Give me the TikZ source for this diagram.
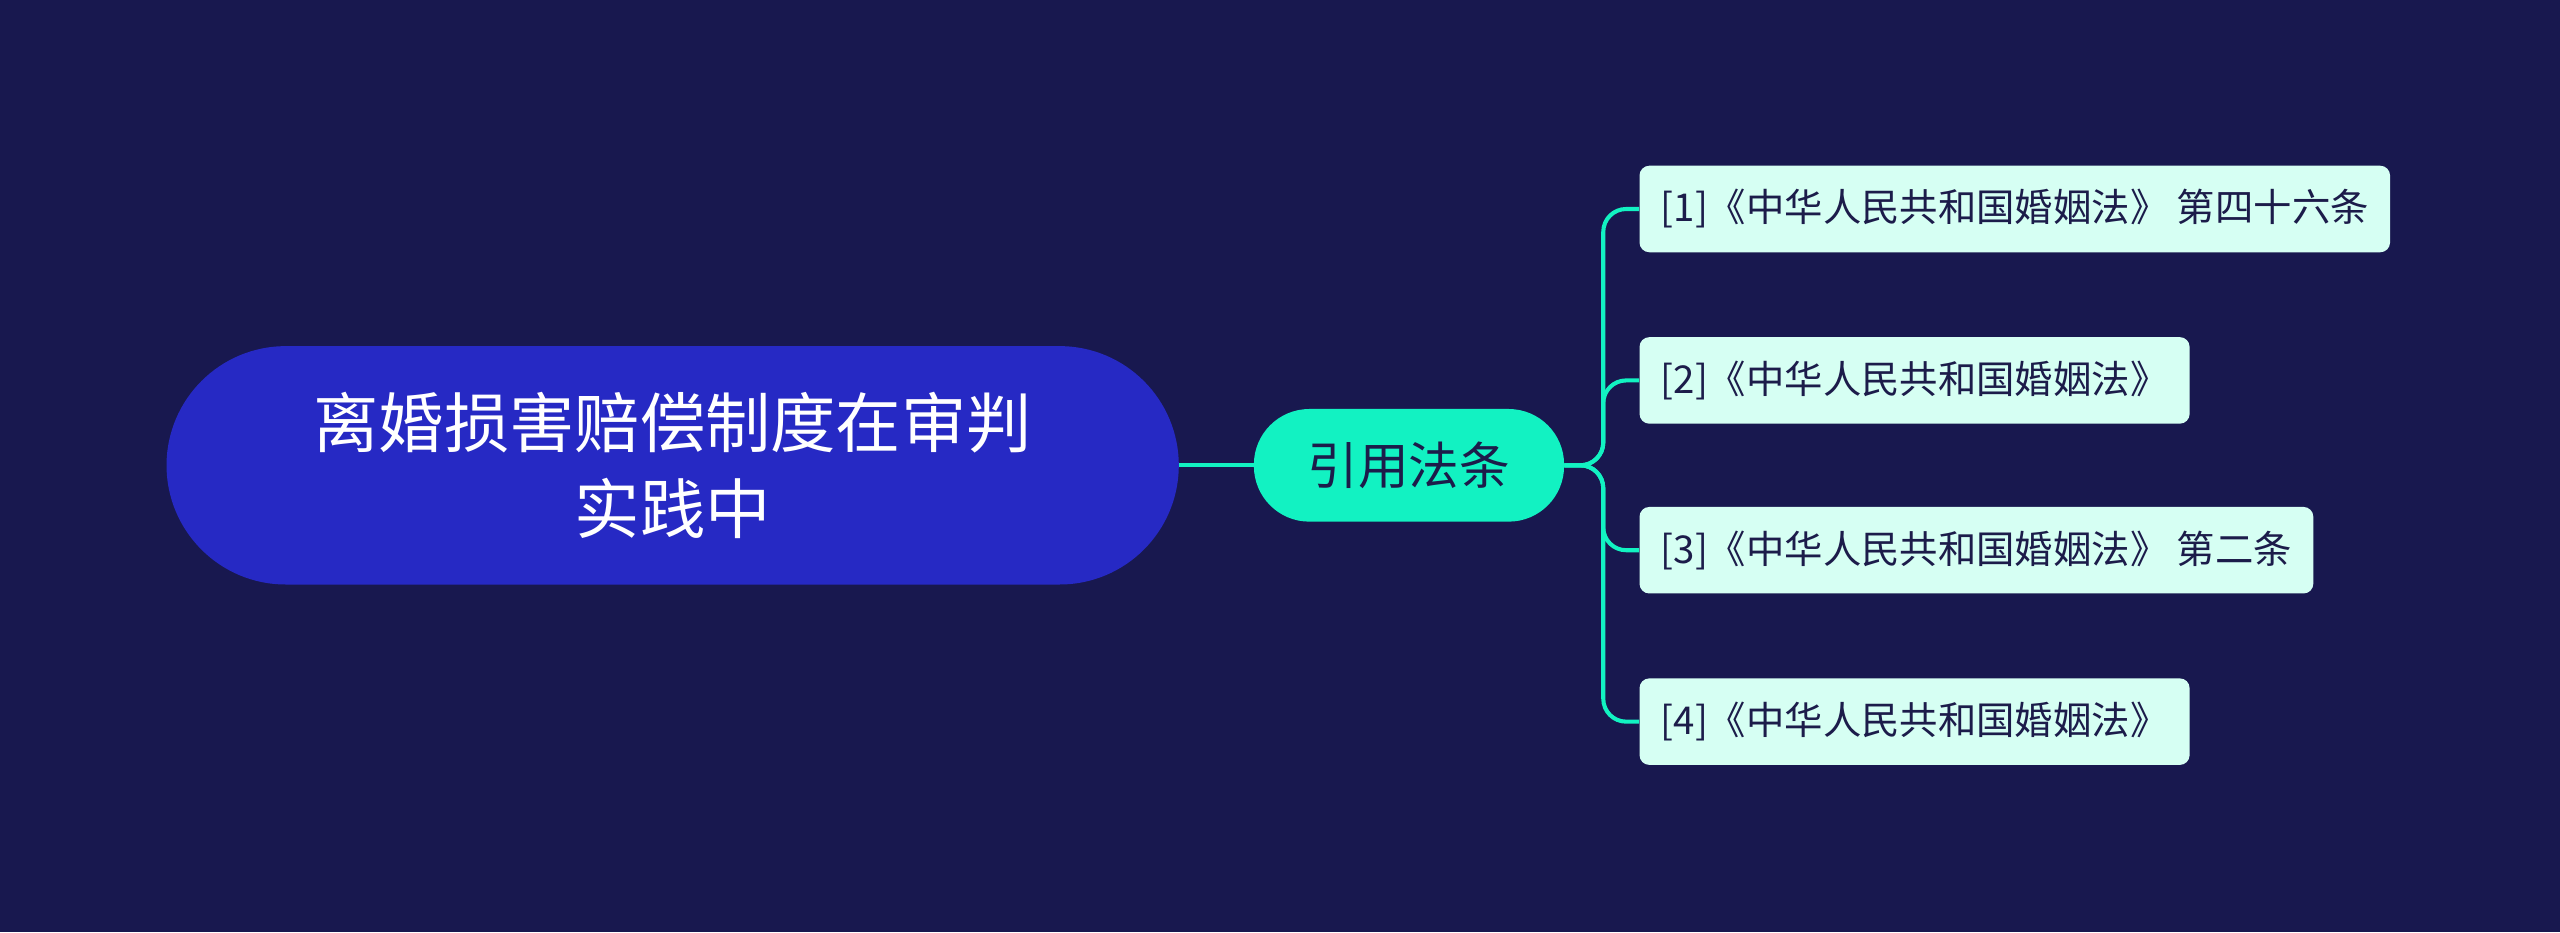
\documentclass[tikz,border=0pt]{standalone}
\usepackage{fontspec}
\newfontfamily\cjk{Noto Sans CJK SC}
\definecolor{bg}{HTML}{18184F}
\definecolor{rootc}{HTML}{2629C4}
\definecolor{midc}{HTML}{12F2C2}
\definecolor{leafc}{HTML}{D6FFF3}
\definecolor{txt}{HTML}{1C1C4A}
\tikzset{leaf/.style={fill=leafc,rounded corners=6pt,anchor=west,minimum height=53pt,inner xsep=13pt,font=\cjk\fontsize{23.5}{27}\selectfont,text=txt},
link/.style={draw=midc,line width=2.5pt,rounded corners=14pt}}
\begin{document}
\begin{tikzpicture}[x=1pt,y=-1pt]
\fill[bg] (0,0) rectangle (1568,571);
\useasboundingbox (0,0) rectangle (1568,571);
\node[fill=rootc,rounded corners=73pt,minimum width=620pt,minimum height=146pt,text=white,align=center,font=\cjk\fontsize{40}{53}\selectfont] (root) at (412,285) {离婚损害赔偿制度在审判\\实践中};
\node[fill=midc,rounded corners=34pt,minimum width=190pt,minimum height=69pt,text=txt,font=\cjk\fontsize{31}{35}\selectfont] (mid) at (863,285) {引用法条};
\node[leaf] (l1) at (1004,128) {[1]《中华人民共和国婚姻法》 第四十六条};
\node[leaf] (l2) at (1004,233) {[2]《中华人民共和国婚姻法》};
\node[leaf] (l3) at (1004,337) {[3]《中华人民共和国婚姻法》 第二条};
\node[leaf] (l4) at (1004,442) {[4]《中华人民共和国婚姻法》};
\draw[link] (root.east) -- (mid.west);
\coordinate (j) at (982,285);
\foreach \l in {l1,l2,l3,l4} \draw[link] (mid.east) -- (j) |- (\l.west);
\end{tikzpicture}
\end{document}
